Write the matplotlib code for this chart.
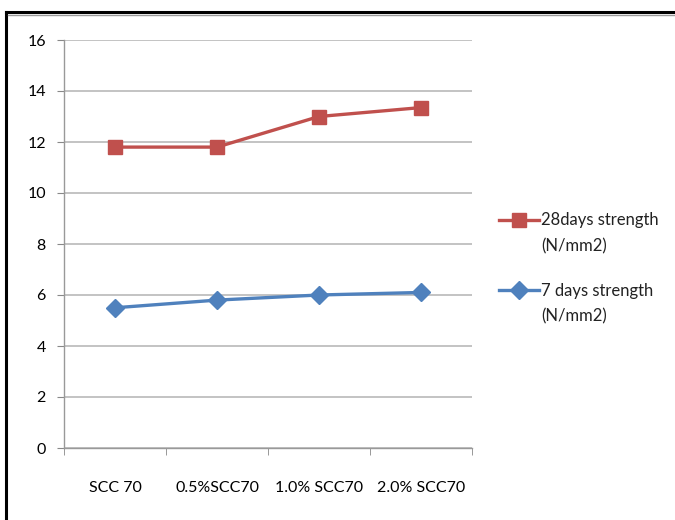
import matplotlib
matplotlib.use("Agg")
import matplotlib.pyplot as plt
from matplotlib.lines import Line2D
import numpy as np

categories = ["SCC 70", "0.5%SCC70", "1.0% SCC70", "2.0% SCC70"]
strength_28 = [11.8, 11.8, 13.0, 13.35]
strength_7 = [5.5, 5.8, 6.0, 6.1]
y_ticks = [0, 2, 4, 6, 8, 10, 12, 14, 16]

plt.rcParams['font.family'] = ['Lato', 'DejaVu Sans']

fig = plt.figure(figsize=(6.75, 5.2), dpi=100)
ax = fig.add_axes([64 / 675, 1 - 448 / 520, (472 - 64) / 675, (448 - 40) / 520])

x = np.arange(len(categories))
ax.plot(x, strength_28, color='#C0504D', lw=2.4, marker='s', ms=10.5,
        label='28days strength\n(N/mm2)')
ax.plot(x, strength_7, color='#4F81BD', lw=2.4, marker='D', ms=9,
        label='7 days strength\n(N/mm2)')

ax.set_xlim(-0.5, len(categories) - 0.5)
ax.set_ylim(0, 16)
ax.set_yticks(y_ticks)
ax.set_xticks(x)
ax.set_xticklabels(categories)
ax.set_xticks(np.arange(-0.5, len(categories)), minor=True)
ax.tick_params(axis='x', which='major', length=0, pad=24, labelsize=11.5)
ax.tick_params(axis='x', which='minor', length=5, color='#888888')
ax.tick_params(axis='y', length=5, color='#888888', pad=8, labelsize=11.5)

ax.yaxis.grid(True, color='#b3b3b3', lw=1.1)
ax.set_axisbelow(True)
for s in ['top', 'right']:
    ax.spines[s].set_visible(False)
for s in ['left', 'bottom']:
    ax.spines[s].set_color('#999999')
    ax.spines[s].set_linewidth(1.0)

leg = ax.legend(loc='center left', bbox_to_anchor=(1.03, 0.44), frameon=False,
                fontsize=12, handlelength=2.4, handletextpad=0.1, labelspacing=1.7)
for t in leg.get_texts():
    t.set_linespacing(1.75)
    t.set_color('#222222')
# put the legend markers next to the first text line, as Excel does
for h in leg.legend_handles:
    h.set_ydata(np.asarray(h.get_ydata()) + 10)

# thick frame on top and left like the original screenshot
fig.add_artist(Line2D([6 / 675, 6 / 675], [0, 1 - 12 / 520], color='black', lw=2.2))
fig.add_artist(Line2D([6 / 675, 1], [1 - 12 / 520, 1 - 12 / 520], color='black', lw=2.2))
fig.add_artist(Line2D([8 / 675, 1], [1 - 14.5 / 520, 1 - 14.5 / 520], color='#999999', lw=1))

fig.savefig('out.png', dpi=100)
